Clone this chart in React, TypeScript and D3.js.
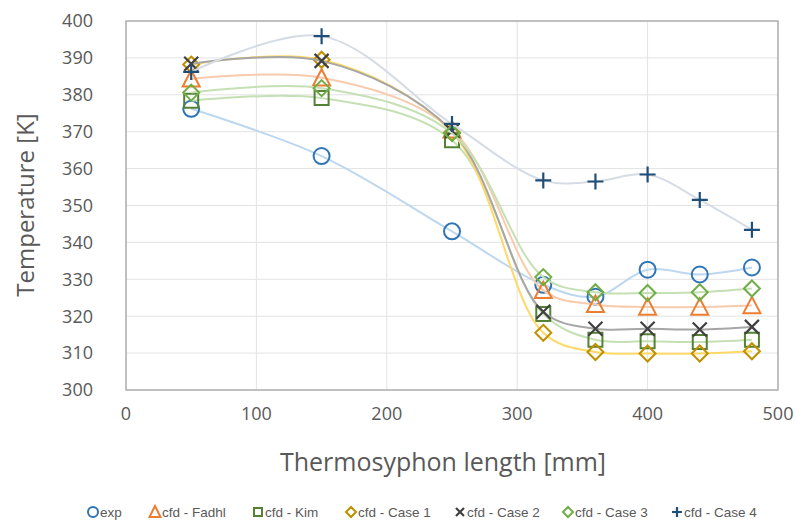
import React from 'react';
import * as d3 from 'd3';

// ---------- data ----------
const xValues = [50, 150, 250, 320, 360, 400, 440, 480];
const expT = [376.2, 363.4, 343.0, 328.5, 325.3, 332.6, 331.3, 333.2];
const fadhlT = [384.3, 384.6, 370.5, 327.0, 323.2, 322.5, 322.5, 322.9];
const kimT = [378.4, 379.1, 367.7, 320.6, 313.6, 313.2, 313.0, 313.6];
const case1T = [388.2, 389.5, 369.8, 315.5, 310.3, 309.9, 309.9, 310.5];
const case2T = [388.4, 389.2, 370.2, 321.2, 316.6, 316.6, 316.4, 317.1];
const case3T = [380.6, 381.8, 369.6, 330.6, 326.5, 326.3, 326.5, 327.5];
const case4T = [386.2, 395.9, 372.1, 356.8, 356.5, 358.4, 351.5, 343.4];

const seriesNames = ['exp', 'cfd - Fadhl', 'cfd - Kim', 'cfd - Case 1', 'cfd - Case 2', 'cfd - Case 3', 'cfd - Case 4'];
const seriesValues = [expT, fadhlT, kimT, case1T, case2T, case3T, case4T];
const markerKinds = ['circle', 'triangle', 'square', 'diamond', 'x', 'diamond', 'plus'];
const markerColors = ['#2e75b6', '#ed7d31', '#548235', '#bf9000', '#404040', '#70ad47', '#1f4e79'];
const lineColors = ['#bdd7ee', '#f8cbad', '#c5e0b4', '#ffd966', '#a6a6a6', '#c5e0b4', '#d6dce5'];

const xTicks = [0, 100, 200, 300, 400, 500];
const yTicks = [300, 310, 320, 330, 340, 350, 360, 370, 380, 390, 400];
const xTitle = 'Thermosyphon length [mm]';
const yTitle = 'Temperature [K]';

// ---------- layout ----------
const W = 797;
const H = 521;
const plot = { left: 126, right: 778, top: 21, bottom: 390 };
const legendY = 512;
const legendMarkerX = [93, 155, 258, 351, 460, 568, 677];
const axisFont = "'Open Sans', 'DejaVu Sans', sans-serif";
const legendFont = "'Liberation Sans', 'Open Sans', sans-serif";
const textGrey = '#595959';

function markerPath(kind: string, s: number): string {
  const h = s / 2;
  switch (kind) {
    case 'triangle': {
      const th = s * 0.9;
      return `M0,${-th / 2 - 1}L${h},${th / 2}L${-h},${th / 2}Z`;
    }
    case 'square':
      return `M${-h},${-h}L${h},${-h}L${h},${h}L${-h},${h}Z`;
    case 'diamond':
      return `M0,${-h}L${h},0L0,${h}L${-h},0Z`;
    case 'x':
      return `M${-h},${-h}L${h},${h}M${h},${-h}L${-h},${h}`;
    case 'plus':
      return `M${-h},0L${h},0M0,${-h}L0,${h}`;
    default:
      return '';
  }
}

function Marker({ kind, color, x, y, size }: { kind: string; color: string; x: number; y: number; size: number }) {
  if (kind === 'circle') {
    return <circle cx={x} cy={y} r={size / 2} fill="none" stroke={color} strokeWidth={2} />;
  }
  const sizeMap: Record<string, number> = { triangle: size + 1, square: size - 2, diamond: size, x: size - 2, plus: size };
  return (
    <path
      d={markerPath(kind, sizeMap[kind])}
      transform={`translate(${x},${y})`}
      fill="none"
      stroke={color}
      strokeWidth={kind === 'x' || kind === 'plus' ? 2.2 : 2}
    />
  );
}

export default function App() {
  const x = d3.scaleLinear().domain([0, 500]).range([plot.left, plot.right]);
  const y = d3.scaleLinear().domain([300, 400]).range([plot.bottom, plot.top]);
  const line = d3
    .line<number>()
    .x((_, i) => x(xValues[i]))
    .y((d) => y(d))
    .curve(d3.curveCatmullRom.alpha(0.5));

  return (
    <svg width={W} height={H} style={{ position: 'absolute', left: 0, top: 0, background: '#fff' }}>
      <rect x={0} y={0} width={W} height={H} fill="#fff" />
      {/* gridlines */}
      {yTicks.map((t) => (
        <line key={'gy' + t} x1={plot.left} x2={plot.right} y1={y(t)} y2={y(t)} stroke="#e3e3e3" strokeWidth={1} />
      ))}
      {xTicks.map((t) => (
        <line key={'gx' + t} x1={x(t)} x2={x(t)} y1={plot.top} y2={plot.bottom} stroke="#e3e3e3" strokeWidth={1} />
      ))}
      <rect
        x={plot.left}
        y={plot.top}
        width={plot.right - plot.left}
        height={plot.bottom - plot.top}
        fill="none"
        stroke="#b0b0b0"
        strokeWidth={1.5}
      />
      {/* tick labels */}
      {yTicks.map((t) => (
        <text
          key={'ty' + t}
          x={93}
          y={y(t)}
          dy="0.35em"
          textAnchor="end"
          fontFamily={axisFont}
          fontSize={18}
          fill={textGrey}
        >
          {t}
        </text>
      ))}
      {xTicks.map((t) => (
        <text
          key={'tx' + t}
          x={x(t)}
          y={414}
          dy="0.35em"
          textAnchor="middle"
          fontFamily={axisFont}
          fontSize={18}
          fill={textGrey}
        >
          {t}
        </text>
      ))}
      {/* titles */}
      <text x={443} y={462} dy="0.35em" textAnchor="middle" fontFamily={axisFont} fontSize={25} fill={textGrey}>
        {xTitle}
      </text>
      <text
        transform={`translate(26,${205}) rotate(-90)`}
        dy="0.35em"
        textAnchor="middle"
        fontFamily={axisFont}
        fontSize={24}
        fill={textGrey}
      >
        {yTitle}
      </text>
      {/* series */}
      {seriesValues.map((vals, si) => (
        <g key={'s' + si}>
          <path d={line(vals) || ''} fill="none" stroke={lineColors[si]} strokeWidth={2} />
          {vals.map((v, i) => (
            <Marker key={i} kind={markerKinds[si]} color={markerColors[si]} x={x(xValues[i])} y={y(v)} size={16} />
          ))}
        </g>
      ))}
      {/* legend */}
      {seriesNames.map((name, si) => (
        <g key={'l' + si}>
          <Marker kind={markerKinds[si]} color={markerColors[si]} x={legendMarkerX[si]} y={legendY} size={10} />
          <text
            x={legendMarkerX[si] + 7}
            y={legendY}
            dy="0.35em"
            fontFamily={legendFont}
            fontSize={13.5}
            fill={textGrey}
          >
            {name}
          </text>
        </g>
      ))}
    </svg>
  );
}
